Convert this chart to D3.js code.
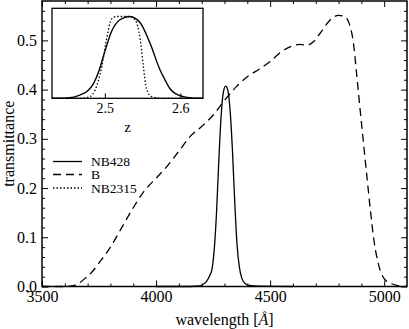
<!DOCTYPE html>
<html>
<head>
<meta charset="utf-8">
<script src="https://cdn.jsdelivr.net/npm/d3@7"></script>
<style>
  html, body { margin: 0; padding: 0; background: #fff; }
  svg { display: block; }
  svg text { font-family: "Liberation Serif", "DejaVu Serif", serif; }
</style>
</head>
<body>
<div id="chart"></div>
<script>
// main panel: filter curves, wavelength [A] vs transmittance
const nb428Wave = [4000, 4150, 4190, 4205, 4220, 4235, 4245, 4255, 4265, 4275, 4285, 4295, 4305,
  4315, 4325, 4335, 4345, 4355, 4365, 4375, 4390, 4410, 4450, 4600];
const nb428Trans = [0, 0, 0.001, 0.004, 0.010, 0.022, 0.035, 0.075, 0.15, 0.255, 0.345, 0.395, 0.407,
  0.398, 0.355, 0.275, 0.17, 0.085, 0.04, 0.018, 0.006, 0.002, 0.0005, 0];

const bWave = [3500, 3600, 3630, 3660, 3690, 3720, 3750, 3800, 3850, 3900, 3950, 4000, 4050, 4100,
  4150, 4200, 4250, 4300, 4350, 4400, 4450, 4500, 4550, 4600, 4630, 4660, 4690, 4720, 4760, 4800,
  4825, 4850, 4865, 4880, 4895, 4910, 4925, 4940, 4955, 4975, 5000, 5030, 5060, 5100];
const bTrans = [0, 0, 0.001, 0.006, 0.017, 0.030, 0.048, 0.080, 0.120, 0.160, 0.195, 0.220, 0.245, 0.275,
  0.305, 0.325, 0.348, 0.378, 0.405, 0.426, 0.441, 0.457, 0.477, 0.489, 0.492, 0.490, 0.497, 0.515, 0.540, 0.551,
  0.549, 0.530, 0.495, 0.428, 0.357, 0.288, 0.220, 0.153, 0.094, 0.045, 0.016, 0.006, 0.002, 0];

// inset: normalised response vs redshift
const insetSolidZ = [2.43, 2.45, 2.467, 2.477, 2.485, 2.492, 2.498, 2.509, 2.520, 2.533, 2.547, 2.560,
  2.573, 2.580, 2.586, 2.595, 2.604, 2.615, 2.63];
const insetSolidT = [0, 0.005, 0.04, 0.09, 0.18, 0.33, 0.51, 0.82, 0.96, 1.0, 0.92, 0.67,
  0.35, 0.22, 0.12, 0.05, 0.02, 0.005, 0];
const insetDotZ = [2.43, 2.47, 2.480, 2.487, 2.496, 2.502, 2.509, 2.516, 2.533, 2.540, 2.547, 2.551,
  2.555, 2.562, 2.575, 2.63];
const insetDotT = [0, 0, 0.02, 0.10, 0.39, 0.71, 0.97, 1.0, 1.0, 0.96, 0.71, 0.39,
  0.12, 0.02, 0, 0];

const xMajor = [3500, 4000, 4500, 5000];
const xMinor = d3.range(3600, 5100, 100).filter(v => v % 500 !== 0);
const yMajor = [0, 0.1, 0.2, 0.3, 0.4, 0.5];
const yMinor = d3.range(0.02, 0.58, 0.02).filter(v => Math.abs(v * 10 - Math.round(v * 10)) > 0.01);
const zMajor = [2.5, 2.6];

const legendNames = ['NB428', 'B', 'NB2315'];

const width = 409;
const height = 329;
const font = '"Liberation Serif", "DejaVu Serif", serif';

const svg = d3.select('#chart')
  .append('svg')
  .attr('width', width)
  .attr('height', height)
  .style('background', '#fff');

const x = d3.scaleLinear().domain([3500, 5100]).range([42, 407]);
const y = d3.scaleLinear().domain([0, 0.58]).range([286.5, 1]);

const pair = (xs, ys) => xs.map((v, i) => [v, ys[i]]);

const line = d3.line()
  .x(d => x(d[0]))
  .y(d => y(d[1]))
  .curve(d3.curveMonotoneX);

// curves
svg.append('path')
  .datum(pair(bWave, bTrans))
  .attr('d', line)
  .attr('fill', 'none')
  .attr('stroke', '#000')
  .attr('stroke-width', 1.3)
  .attr('stroke-dasharray', '8,5');

svg.append('path')
  .datum(pair(nb428Wave, nb428Trans))
  .attr('d', line)
  .attr('fill', 'none')
  .attr('stroke', '#000')
  .attr('stroke-width', 1.3);

/* axes with inward ticks on every side */
function styleAxis(g, size) {
  g.attr('font-family', font);
  g.select('.domain').remove();
  g.selectAll('line').attr('stroke', '#000').attr('stroke-width', 1);
  g.selectAll('text').style('font-family', font).attr('font-size', size).attr('fill', '#000');
}

svg.append('g')
  .attr('transform', `translate(0,${y(0)})`)
  .call(d3.axisBottom(x).tickValues(xMajor).tickFormat(d3.format('d'))
    .tickSize(-6).tickSizeOuter(0).tickPadding(4))
  .call(g => styleAxis(g, 16));
svg.append('g')
  .attr('transform', `translate(0,${y(0)})`)
  .call(d3.axisBottom(x).tickValues(xMinor).tickFormat('').tickSize(-3).tickSizeOuter(0))
  .call(g => styleAxis(g, 16));
svg.append('g')
  .attr('transform', `translate(0,${y.range()[1]})`)
  .call(d3.axisTop(x).tickValues(xMajor).tickFormat('').tickSize(-6).tickSizeOuter(0))
  .call(g => styleAxis(g, 16));
svg.append('g')
  .attr('transform', `translate(0,${y.range()[1]})`)
  .call(d3.axisTop(x).tickValues(xMinor).tickFormat('').tickSize(-3).tickSizeOuter(0))
  .call(g => styleAxis(g, 16));

svg.append('g')
  .attr('transform', `translate(${x.range()[0]},0)`)
  .call(d3.axisLeft(y).tickValues(yMajor).tickFormat(d3.format('.1f'))
    .tickSize(-6).tickSizeOuter(0).tickPadding(5))
  .call(g => styleAxis(g, 16));
svg.append('g')
  .attr('transform', `translate(${x.range()[0]},0)`)
  .call(d3.axisLeft(y).tickValues(yMinor).tickFormat('').tickSize(-3).tickSizeOuter(0))
  .call(g => styleAxis(g, 16));
svg.append('g')
  .attr('transform', `translate(${x.range()[1]},0)`)
  .call(d3.axisRight(y).tickValues(yMajor).tickFormat('').tickSize(-6).tickSizeOuter(0))
  .call(g => styleAxis(g, 16));
svg.append('g')
  .attr('transform', `translate(${x.range()[1]},0)`)
  .call(d3.axisRight(y).tickValues(yMinor).tickFormat('').tickSize(-3).tickSizeOuter(0))
  .call(g => styleAxis(g, 16));

// frame
svg.append('rect')
  .attr('x', x.range()[0])
  .attr('y', y.range()[1])
  .attr('width', x.range()[1] - x.range()[0])
  .attr('height', y.range()[0] - y.range()[1])
  .attr('fill', 'none')
  .attr('stroke', '#000')
  .attr('stroke-width', 1.5);

// axis titles
const xTitle = svg.append('text')
  .attr('x', (x.range()[0] + x.range()[1]) / 2)
  .attr('y', 325)
  .attr('text-anchor', 'middle')
  .attr('font-family', font)
  .attr('font-size', 16);
xTitle.append('tspan').text('wavelength [');
xTitle.append('tspan').attr('font-style', 'italic').text('Å');
xTitle.append('tspan').text(']');

svg.append('text')
  .attr('transform', `translate(14,${(y.range()[0] + y.range()[1]) / 2}) rotate(-90)`)
  .attr('text-anchor', 'middle')
  .attr('font-family', font)
  .attr('font-size', 16)
  .text('transmittance');

// legend
const legendDash = ['none', '8,5', '1.5,2'];
const legend = svg.append('g')
  .selectAll('g')
  .data(legendNames)
  .enter()
  .append('g')
  .attr('transform', (_d, i) => `translate(0,${[161.5, 174.5, 188][i]})`);
legend.append('line')
  .attr('x1', 53).attr('x2', 82)
  .attr('stroke', '#000')
  .attr('stroke-width', 1.3)
  .attr('stroke-dasharray', (_d, i) => legendDash[i]);
legend.append('text')
  .attr('x', 91)
  .attr('dy', '0.35em')
  .attr('font-family', font)
  .attr('font-size', 13.5)
  .text(d => d);

/***
 * inset panel */
const ix = d3.scaleLinear().domain([2.43, 2.63]).range([52, 203]);
const iy = d3.scaleLinear().domain([0, 1.1]).range([98.3, 8.3]);

const inset = svg.append('g');
inset.append('rect')
  .attr('x', ix.range()[0])
  .attr('y', iy.range()[1])
  .attr('width', ix.range()[1] - ix.range()[0])
  .attr('height', iy.range()[0] - iy.range()[1])
  .attr('fill', '#fff');

const iline = d3.line()
  .x(d => ix(d[0]))
  .y(d => iy(d[1]))
  .curve(d3.curveMonotoneX);

inset.append('path')
  .datum(pair(insetDotZ, insetDotT))
  .attr('d', iline)
  .attr('fill', 'none')
  .attr('stroke', '#000')
  .attr('stroke-width', 1.3)
  .attr('stroke-dasharray', '1.5,2');

inset.append('path')
  .datum(pair(insetSolidZ, insetSolidT))
  .attr('d', iline)
  .attr('fill', 'none')
  .attr('stroke', '#000')
  .attr('stroke-width', 1.4);

inset.append('g')
  .attr('transform', `translate(0,${iy(0)})`)
  .call(d3.axisBottom(ix).tickValues(zMajor).tickFormat(d3.format('.1f'))
    .tickSize(-5).tickSizeOuter(0).tickPadding(5))
  .call(g => styleAxis(g, 14));

inset.append('rect')
  .attr('x', ix.range()[0])
  .attr('y', iy.range()[1])
  .attr('width', ix.range()[1] - ix.range()[0])
  .attr('height', iy.range()[0] - iy.range()[1])
  .attr('fill', 'none')
  .attr('stroke', '#000')
  .attr('stroke-width', 1.3);

inset.append('text')
  .attr('x', (ix.range()[0] + ix.range()[1]) / 2)
  .attr('y', 132)
  .attr('text-anchor', 'middle')
  .attr('font-family', font)
  .attr('font-size', 15)
  .text('z');
</script>
</body>
</html>
